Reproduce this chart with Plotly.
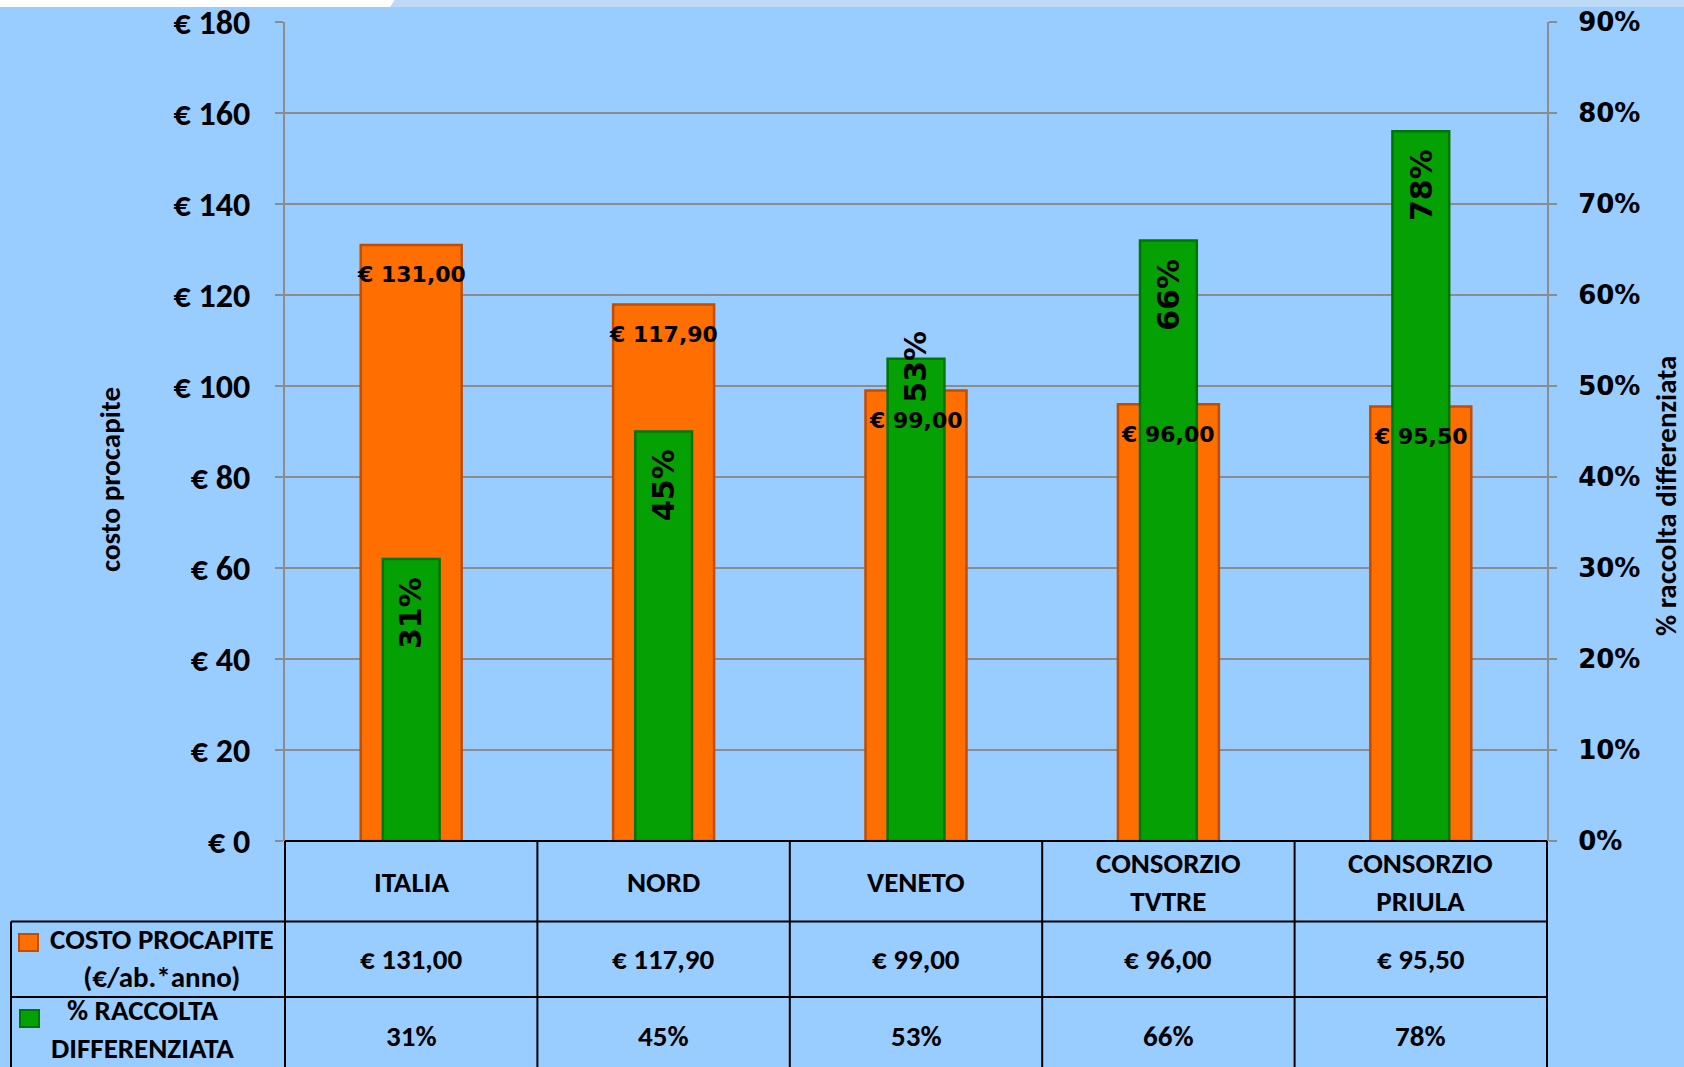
import plotly.graph_objects as go

# ---------------- data ----------------
categories = ["ITALIA", "NORD", "VENETO", "CONSORZIO<br>TVTRE", "CONSORZIO<br>PRIULA"]
costo_procapite = [131.00, 117.90, 99.00, 96.00, 95.50]          # €/ab.*anno
raccolta_differenziata = [31, 45, 53, 66, 78]                      # %
cost_ticks = [0, 20, 40, 60, 80, 100, 120, 140, 160, 180]
pct_ticks = [0, 10, 20, 30, 40, 50, 60, 70, 80, 90]
row_labels = ["COSTO PROCAPITE<br>(€/ab.*anno)", "% RACCOLTA<br>DIFFERENZIATA"]
axis_titles = ["costo procapite", "% raccolta differenziata"]

# ---------------- layout helpers ----------------
W, H = 1684, 1067
ML, MR, MT, MB = 285, 137, 22, 226
PW = W - ML - MR
PH = H - MT - MB


def px(x):
    return (x - ML) / PW


def py(y):
    return (H - MB - y) / PH


NARROW = "Carlito, Liberation Sans Narrow, Arial Narrow, DejaVu Sans Condensed, sans-serif"
WIDE = "DejaVu Sans, Verdana, sans-serif"
BG = "#99ccff"
GRID = "#8c8c8c"
ORANGE = "#ff6e00"
ORANGE_EDGE = "#c24c00"
GREEN = "#04a004"
GREEN_EDGE = "#017501"


def eur(v):
    return "€ " + f"{v:.2f}".replace(".", ",")


fig = go.Figure()
fig.add_trace(go.Bar(
    x=categories, y=costo_procapite, width=0.40, yaxis="y",
    marker=dict(color=ORANGE, line=dict(color=ORANGE_EDGE, width=2.5)),
    name=row_labels[0], hoverinfo="x+y"))
fig.add_trace(go.Bar(
    x=categories, y=raccolta_differenziata, width=0.225, yaxis="y2",
    marker=dict(color=GREEN, line=dict(color=GREEN_EDGE, width=2.5)),
    name=row_labels[1], hoverinfo="x+y"))

annotations = []
shapes = []

# bar data labels
for c, v in zip(categories, costo_procapite):
    annotations.append(dict(x=c, y=v, xref="x", yref="y", text=eur(v), showarrow=False,
                            xanchor="center", yanchor="middle", yshift=-30,
                            font=dict(family=WIDE, size=22, color="black", weight="bold")))
for c, v in zip(categories, raccolta_differenziata):
    special = c == "VENETO"
    annotations.append(dict(x=c, y=v, xref="x", yref="y2", text=f"{v}%", showarrow=False,
                            textangle=-90, xanchor="center",
                            yanchor="middle" if special else "top",
                            yshift=-8 if special else -16,
                            font=dict(family=WIDE, size=30, color="black", weight="bold")))

# table: header row (categories)
TFONT = dict(family=NARROW, size=29, color="black", weight="bold")
for c in categories:
    annotations.append(dict(x=c, y=py(882), xref="x", yref="paper", text=c, showarrow=False,
                            xanchor="center", yanchor="middle", font=TFONT))

# table: value rows
for c, v in zip(categories, costo_procapite):
    annotations.append(dict(x=c, y=py(959), xref="x", yref="paper", text=eur(v), showarrow=False,
                            xanchor="center", yanchor="middle", font=TFONT))
for c, v in zip(categories, raccolta_differenziata):
    annotations.append(dict(x=c, y=py(1036), xref="x", yref="paper", text=f"{v}%", showarrow=False,
                            xanchor="center", yanchor="middle", font=TFONT))

# table: row labels
row_pos = [(162, 958), (142, 1029)]
for lab, (xx, yy) in zip(row_labels, row_pos):
    annotations.append(dict(x=px(xx), y=py(yy), xref="paper", yref="paper", text=lab,
                            showarrow=False, xanchor="center", yanchor="middle", borderpad=0,
                            font=TFONT))

# legend keys in table
for (x0, y0, x1, y1), fc, ec in [((19, 934, 38, 951), ORANGE, ORANGE_EDGE),
                                 ((20, 1010, 39, 1027), GREEN, GREEN_EDGE)]:
    shapes.append(dict(type="rect", xref="paper", yref="paper", x0=px(x0), x1=px(x1),
                       y0=py(y1), y1=py(y0), fillcolor=fc, line=dict(color=ec, width=2)))

# table lines
LINE = dict(color="black", width=2)
shapes.append(dict(type="line", xref="paper", yref="paper", x0=0, x1=1, y0=0, y1=0, line=LINE))
for yy in (921.5, 997):
    shapes.append(dict(type="line", xref="paper", yref="paper", x0=px(11), x1=1,
                       y0=py(yy), y1=py(yy), line=LINE))
shapes.append(dict(type="line", xref="paper", yref="paper", x0=px(11), x1=px(11),
                   y0=py(921.5), y1=py(1075), line=LINE))
n = len(categories)
for i in range(n + 1):
    shapes.append(dict(type="line", xref="paper", yref="paper", x0=i / n, x1=i / n,
                       y0=0, y1=py(1075), line=LINE))

# top slide strip
shapes.append(dict(type="rect", xref="paper", yref="paper", x0=px(-5), x1=px(396),
                   y0=py(7), y1=py(-5), fillcolor="white", line=dict(width=0), layer="below"))
shapes.append(dict(type="path", xref="paper", yref="paper",
                   path=f"M {px(390)},{py(7)} L {px(398)},{py(-5)} L {px(1690)},{py(-5)} L {px(1690)},{py(7)} Z",
                   fillcolor="#bed9f5", line=dict(width=0), layer="below"))

# axis titles
ATFONT = dict(family=NARROW, size=29, color="black", weight="bold")
annotations.append(dict(x=px(110), y=py(480), xref="paper", yref="paper", text=axis_titles[0],
                        textangle=-90, showarrow=False, xanchor="center", yanchor="middle", font=ATFONT))
annotations.append(dict(x=px(1666), y=py(496), xref="paper", yref="paper", text=axis_titles[1],
                        textangle=-90, showarrow=False, xanchor="center", yanchor="middle", font=ATFONT))

fig.update_layout(
    width=W, height=H,
    margin=dict(l=ML, r=MR, t=MT, b=MB, pad=0, autoexpand=False),
    paper_bgcolor=BG, plot_bgcolor=BG,
    barmode="overlay", showlegend=False,
    xaxis=dict(type="category", range=[-0.5, n - 0.5], showticklabels=False, showgrid=False,
               zeroline=False, showline=False, ticks="", automargin=False),
    yaxis=dict(range=[0, 180], tickmode="array", tickvals=cost_ticks,
               ticktext=[f"€ {t}" for t in cost_ticks], showgrid=True, automargin=False,
               gridcolor=GRID, gridwidth=1.5, zeroline=False, showline=True, linecolor=GRID,
               linewidth=2, ticks="outside", ticklen=8, tickcolor=GRID, tickwidth=1.5,
               ticklabelstandoff=18,
               tickfont=dict(family=NARROW, size=34, color="black", weight="bold")),
    yaxis2=dict(range=[0, 90], tickmode="array", tickvals=pct_ticks, automargin=False,
                ticktext=[f"{t}%" for t in pct_ticks], overlaying="y", side="right",
                showgrid=False, zeroline=False, showline=True, linecolor=GRID, linewidth=2,
                ticks="outside", ticklen=8, tickcolor=GRID, tickwidth=1.5, ticklabelstandoff=16,
                tickfont=dict(family=WIDE, size=26, color="black", weight="bold")),
    annotations=annotations, shapes=shapes,
)

fig.write_html("out.html", config={"displayModeBar": False},
               post_script="document.body.style.margin='0px';")
